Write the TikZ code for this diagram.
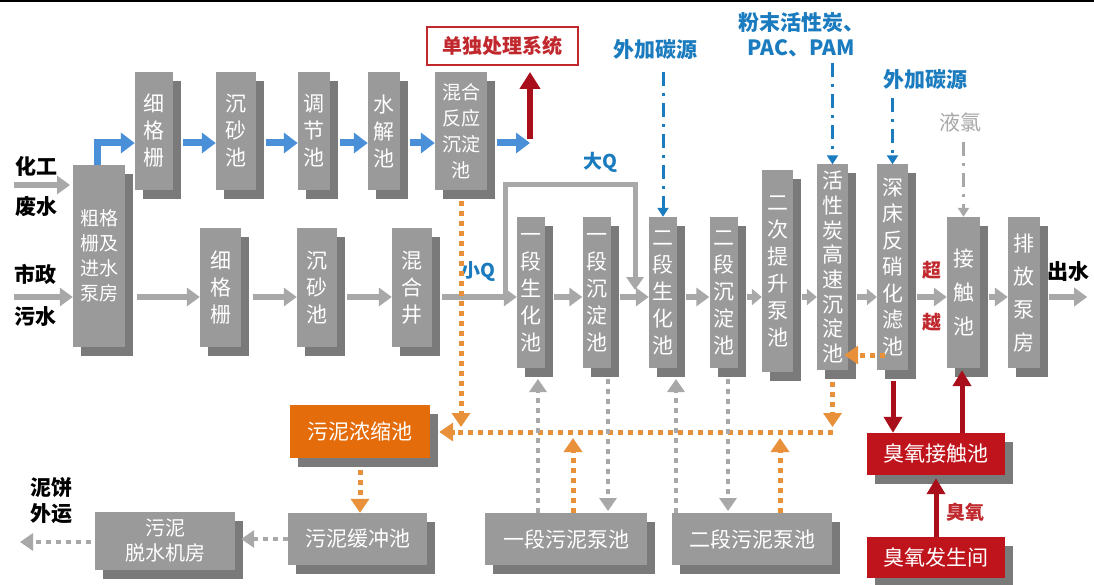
\documentclass[tikz,border=0pt]{standalone}
\usepackage{fontspec}
\setmainfont{Noto Sans CJK SC}
\usetikzlibrary{arrows.meta,shadows}
\definecolor{boxg}{HTML}{9A9A9A}
\definecolor{shg}{HTML}{7A7A7A}
\definecolor{arrg}{HTML}{A8A8A8}
\definecolor{arrb}{HTML}{4A90D9}
\definecolor{lblue}{HTML}{1A7BBF}
\definecolor{redbox}{HTML}{C0141C}
\definecolor{darkred}{HTML}{A80F1A}
\definecolor{orbox}{HTML}{E46C0A}
\definecolor{ordot}{HTML}{E8903A}
\definecolor{sepred}{HTML}{C0282D}
\begin{document}
\begin{tikzpicture}[x=1pt,y=-1pt,
  shd/.style={general shadow={shadow xshift=8pt,shadow yshift=-9pt,fill=shg}},
  box/.style={fill=boxg,text=white,inner sep=0pt,align=center,shd},
  vt/.style={font=\fontsize{21}{27}\selectfont},
  hz/.style={font=\fontsize{21}{26}\selectfont},
  lab/.style={font=\bfseries\fontsize{21}{26}\selectfont,inner sep=0pt,align=center},
  garr/.style={draw=arrg,line width=6pt,-{Triangle[width=18pt,length=13pt]}},
  barr/.style={draw=arrb,line width=7pt,-{Triangle[width=20pt,length=14pt]}},
  rarr/.style={draw=darkred,line width=5pt,-{Triangle[width=18pt,length=16pt]}},
  odot/.style={draw=ordot,line width=5pt,dash pattern=on 5pt off 5pt,-{Triangle[width=18pt,length=14pt]}},
  gdot/.style={draw=arrg,line width=4.5pt,dash pattern=on 5pt off 5pt,-{Triangle[width=17pt,length=13pt]}},
  bdd/.style={draw=lblue,line width=3pt,dash pattern=on 14pt off 7pt on 3pt off 7pt,-{Triangle[width=11pt,length=9pt]}},
  gdd/.style={draw=arrg,line width=3pt,dash pattern=on 14pt off 7pt on 3pt off 7pt,-{Triangle[width=11pt,length=9pt]}}
]
\useasboundingbox[fill=white] (0,0) rectangle (1094,585);
\draw[line width=2pt] (0,1.5) -- (1094,1.5);

% coordinates
\coordinate (flow) at (0,297);
\coordinate (topflow) at (0,143);
\coordinate (oline) at (0,432);
\coordinate (oarr) at (0,427);
\coordinate (oup) at (0,438);
\coordinate (olev) at (0,355);
\coordinate (sb) at (0,379);
\coordinate (pt) at (0,511);
\coordinate (qend) at (635,290);
\coordinate (rup) at (530,143);
\coordinate (out2) at (20,542);
\coordinate (out1) at (70,185);
\coordinate (in1) at (14,185);
\coordinate (in2) at (14,297);

% left pump house
\node[box,minimum width=52,minimum height=182,font=\fontsize{19}{25}\selectfont] (b0) at (99,256) {粗格\\栅及\\进水\\泵房};

% top row
\node[box,vt,minimum width=38,minimum height=118] (t1) at (154,131) {细\\格\\栅};
\node[box,vt,minimum width=40,minimum height=118] (t2) at (236,131) {沉\\砂\\池};
\node[box,vt,minimum width=32,minimum height=118] (t3) at (314,131) {调\\节\\池};
\node[box,vt,minimum width=32,minimum height=118] (t4) at (384,131) {水\\解\\池};
\node[box,minimum width=52,minimum height=118,font=\fontsize{19}{26}\selectfont] (t5) at (461,131) {混合\\反应\\沉淀\\池};

% bottom row
\node[box,vt,minimum width=41,minimum height=119] (b1) at (220.5,287.5) {细\\格\\栅};
\node[box,vt,minimum width=40,minimum height=119] (b2) at (317,287.5) {沉\\砂\\池};
\node[box,vt,minimum width=40,minimum height=119] (b3) at (412,287.5) {混\\合\\井};
\node[box,vt,minimum width=28,minimum height=151] (s1) at (531,292.5) {一\\段\\生\\化\\池};
\node[box,vt,minimum width=28,minimum height=151] (s2) at (596.5,292.5) {一\\段\\沉\\淀\\池};
\node[box,vt,minimum width=28,minimum height=151] (s3) at (663,292.5) {二\\段\\生\\化\\池};
\node[box,vt,minimum width=28,minimum height=151] (s4) at (723.5,292.5) {二\\段\\沉\\淀\\池};
\node[box,vt,minimum width=31,minimum height=202] (s5) at (777.5,271) {二\\次\\提\\升\\泵\\池};
\node[box,minimum width=31,minimum height=205,font=\fontsize{21}{24.7}\selectfont] (s6) at (832.5,267) {活\\性\\炭\\高\\速\\沉\\淀\\池};
\node[box,minimum width=31,minimum height=205,font=\fontsize{21}{26.5}\selectfont] (s7) at (892.5,267) {深\\床\\反\\硝\\化\\滤\\池};
\node[box,minimum width=33,minimum height=151,font=\fontsize{21}{34}\selectfont] (s8) at (963.5,292.5) {接\\触\\池};
\node[box,minimum width=32,minimum height=151,font=\fontsize{21}{33}\selectfont] (s9) at (1024,292.5) {排\\放\\泵\\房};

% sludge boxes
\node[box,hz,fill=orbox,minimum width=140,minimum height=53] (thick) at (360,431.5) {污泥浓缩池};
\node[box,hz,minimum width=139,minimum height=52] (buf) at (357.5,539) {污泥缓冲池};
\node[box,font=\fontsize{20}{25}\selectfont,minimum width=140,minimum height=58] (dew) at (165,541) {污泥\\脱水机房};
\node[box,hz,minimum width=162,minimum height=52] (p1) at (566,539) {一段污泥泵池};
\node[box,hz,minimum width=160,minimum height=52] (p2) at (752,539) {二段污泥泵池};
\node[box,hz,fill=redbox,minimum width=138,minimum height=42] (oc) at (936,454) {臭氧接触池};
\node[box,hz,fill=redbox,minimum width=138,minimum height=41] (og) at (936,557.5) {臭氧发生间};
\node[draw=sepred,line width=2pt,fill=white,text=sepred,font=\bfseries\fontsize{20}{24}\selectfont,minimum width=151,minimum height=38,inner sep=0pt] (sep) at (502.5,46) {单独处理系统};

% labels
\node[lab] (l1) at (37,166) {化工};
\node[lab] (l2) at (37,206) {废水};
\node[lab] (l3) at (35,274) {市政};
\node[lab] (l4) at (35,317) {污水};
\node[lab] (l5) at (51,501) {泥饼\\外运};
\node[lab] (l6) at (1068,272) {出水};
\node[lab,text=lblue,font=\bfseries\fontsize{19}{24}\selectfont] (bq) at (600,162) {大Q};
\node[lab,text=lblue,font=\bfseries\fontsize{19}{24}\selectfont] (sq) at (478,272) {小Q};
\node[lab,text=sepred,font=\bfseries\fontsize{19}{24}\selectfont] (cy1) at (932,270) {超};
\node[lab,text=sepred,font=\bfseries\fontsize{19}{24}\selectfont] (cy2) at (932,322) {越};
\node[lab,text=lblue] (c1) at (655,50) {外加碳源};
\node[lab,text=lblue,font=\bfseries\fontsize{21}{25}\selectfont] (pac) at (801,35) {粉末活性炭、\\PAC、PAM};
\node[lab,text=lblue] (c2) at (925,80) {外加碳源};
\node[lab,text=arrg,font=\fontsize{21}{26}\selectfont] (lq) at (960,122) {液氯};
\node[lab,text=sepred,font=\bfseries\fontsize{19}{24}\selectfont] (oz) at (965,512) {臭氧};

% inputs
\draw[garr] (in1) -- (out1);
\draw[garr] (in2) -- (b0.west|-flow);

% top blue flow
\draw[barr] ([xshift=-2]b0.north) |- (t1.west|-topflow);
\draw[barr] ([xshift=10]t1.east|-topflow) -- (t2.west|-topflow);
\draw[barr] ([xshift=10]t2.east|-topflow) -- (t3.west|-topflow);
\draw[barr] ([xshift=10]t3.east|-topflow) -- (t4.west|-topflow);
\draw[barr] ([xshift=10]t4.east|-topflow) -- (t5.west|-topflow);
\draw[barr] ([xshift=10]t5.east|-topflow) -- (rup);
\draw[rarr,line width=6pt,-{Triangle[width=20pt,length=17pt]}] ([yshift=4]rup) -- ([yshift=-6]rup|-sep.south);

% main gray flow
\draw[garr] ([xshift=12]b0.east|-flow) -- (b1.west|-flow);
\draw[garr] ([xshift=12]b1.east|-flow) -- (b2.west|-flow);
\draw[garr] ([xshift=10]b2.east|-flow) -- (b3.west|-flow);
\draw[garr] ([xshift=10]b3.east|-flow) -- (s1.west|-flow);
\draw[garr] ([xshift=9]s1.east|-flow) -- (s2.west|-flow);
\draw[garr] ([xshift=9]s2.east|-flow) -- (s3.west|-flow);
\draw[garr] ([xshift=9]s3.east|-flow) -- (s4.west|-flow);
\draw[garr,-{Triangle[width=16pt,length=10pt]}] ([xshift=9]s4.east|-flow) -- (s5.west|-flow);
\draw[garr,-{Triangle[width=16pt,length=10pt]}] ([xshift=9]s5.east|-flow) -- (s6.west|-flow);
\draw[garr,-{Triangle[width=16pt,length=10pt]}] ([xshift=9]s6.east|-flow) -- (s7.west|-flow);
\draw[garr] ([xshift=9]s7.east|-flow) -- (s8.west|-flow);
\draw[garr] ([xshift=9]s8.east|-flow) -- (s9.west|-flow);
\draw[garr] ([xshift=9]s9.east|-flow) -- ++(38,0) coordinate (outw);

% big Q loop
\draw[garr,line width=5pt,-{Triangle[width=17pt,length=13pt]}] ([xshift=73]b3.east|-flow) -- ++(0,-112) -| (qend);

% orange sludge lines
\draw[odot,-] (s6.south|-oline) -- ([xshift=-6]t5.south|-oline);
\draw[odot] ([xshift=-6]t5.south|-oline) -- ([xshift=9]thick.east|-oline);
\draw[odot] ([yshift=-12]s6.south) -- (s6.south|-oarr);
\draw[odot] ([yshift=-11]t5.south) -- (t5.south|-oarr);
\draw[odot] ([xshift=7]p1.north) -- ([xshift=7]p1.north|-oup);
\draw[odot] ([xshift=28]p2.north) -- ([xshift=28]p2.north|-oup);
\draw[odot] ([xshift=8]s7.west|-olev) -- ([xshift=-4]s6.east|-olev);
\draw[odot] ([yshift=-12]thick.south) -- (thick.south|-buf.north);

% gray sludge lines
\draw[gdot] ([xshift=-28]p1.north) -- ([xshift=-28]p1.north|-sb);
\draw[gdot] ([xshift=11.5,yshift=-11]s2.south) -- ([xshift=11.5]s2.south|-pt);
\draw[gdot] ([xshift=-76]p2.north) -- ([xshift=-76]p2.north|-sb);
\draw[gdot] ([xshift=4.5,yshift=-11]s4.south) -- ([xshift=4.5]s4.south|-pt);
\draw[gdot] (buf.west) -- ([xshift=6]dew.east|-buf.west);
\draw[gdot] ([xshift=-4]dew.west|-out2) -- (out2);

% red ozone lines
\draw[rarr] ([xshift=0.5,yshift=-11]s7.south) -- ([xshift=0.5]s7.south|-oc.north);
\draw[rarr] ([xshift=26]oc.north) -- ([xshift=26,yshift=-2]oc.north|-s8.south);
\draw[rarr] (og.north) -- ([yshift=-3]oc.south);

% dosing lines
\draw[bdd] ([yshift=-12]s3.north|-c1.south) -- (s3.north);
\draw[bdd] ([yshift=-6]s6.north|-pac.south) -- (s6.north);
\draw[bdd] ([yshift=-8]s7.north|-c2.south) -- (s7.north);
\draw[gdd] ([yshift=-10]s8.north|-lq.south) -- (s8.north);
\end{tikzpicture}
\end{document}
